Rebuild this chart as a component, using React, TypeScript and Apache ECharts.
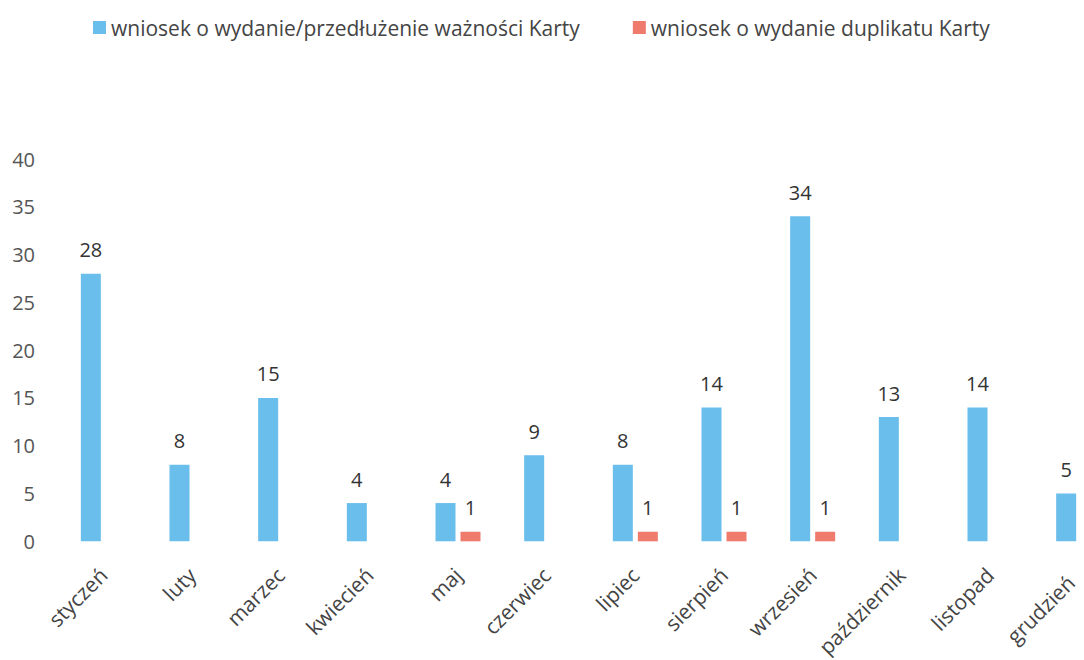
import React, { useEffect, useRef } from "react";
import * as echarts from "echarts";

const categories = ["styczeń", "luty", "marzec", "kwiecień", "maj", "czerwiec", "lipiec", "sierpień", "wrzesień", "październik", "listopad", "grudzień"];
const seriesNames = ["wniosek o wydanie/przedłużenie ważności Karty", "wniosek o wydanie duplikatu Karty"];
const issueValues = [28, 8, 15, 4, 4, 9, 8, 14, 34, 13, 14, 5];
const duplicateValues: (number | null)[] = [null, null, null, null, 1, null, 1, 1, 1, null, null, null];
const yTicks = { min: 0, max: 40, interval: 5 };

export default function App() {
  const ref = useRef<HTMLDivElement>(null);
  useEffect(() => {
    if (!ref.current) return;
    const chart = echarts.init(ref.current, null, { renderer: "svg" });
    const font = "Open Sans, Noto Sans, sans-serif";
    const categoryData = categories.map((c, i) =>
      i === categories.length - 1 ? { value: c, textStyle: { padding: [0, 11, 0, 0] } } : c
    );
    chart.setOption({
      animation: false,
      backgroundColor: "#ffffff",
      textStyle: { fontFamily: font },
      legend: {
        top: 12,
        left: 88,
        itemWidth: 13,
        itemHeight: 13,
        itemGap: 53,
        icon: "rect",
        textStyle: { fontSize: 21, color: "#444", fontFamily: font },
        data: seriesNames,
      },
      grid: { left: 59, top: 159, width: 1064, height: 384, containLabel: false },
      xAxis: {
        type: "category",
        data: categoryData,
        axisLine: { show: false },
        axisTick: { show: false },
        axisLabel: { rotate: 45, fontSize: 21, color: "#444", margin: 30, interval: 0, fontFamily: font },
      },
      yAxis: {
        type: "value",
        min: yTicks.min,
        max: yTicks.max,
        interval: yTicks.interval,
        axisLine: { show: false },
        axisTick: { show: false },
        splitLine: { show: false },
        axisLabel: { fontSize: 20, color: "#555", margin: 24, fontFamily: font },
      },
      series: [
        {
          name: seriesNames[0],
          type: "bar",
          data: issueValues,
          barWidth: 20,
          barGap: "25%",
          itemStyle: { color: "#6ABEEB" },
          label: { show: true, position: "top", distance: 14, fontSize: 20, color: "#333", fontFamily: font },
        },
        {
          name: seriesNames[1],
          type: "bar",
          data: duplicateValues,
          barWidth: 20,
          barGap: "25%",
          itemStyle: { color: "#EF7B6D" },
          label: { show: true, position: "top", distance: 14, fontSize: 20, color: "#333", fontFamily: font },
        },
      ],
    });
    return () => chart.dispose();
  }, []);
  return (
    <div style={{ position: "absolute", left: 0, top: 0, width: 1084, height: 660, overflow: "hidden", background: "#fff" }}>
      <div ref={ref} style={{ position: "absolute", left: 0, top: 0, width: 1140, height: 660 }} />
    </div>
  );
}
